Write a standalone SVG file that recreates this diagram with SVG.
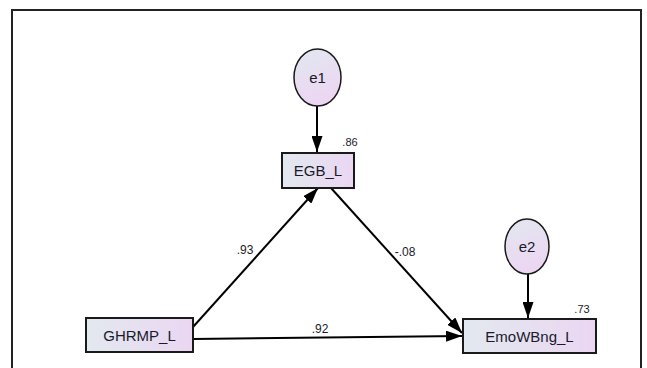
<svg xmlns="http://www.w3.org/2000/svg" width="647" height="368" viewBox="0 0 647 368">
<defs>
<linearGradient id="gr" x1="0" y1="0" x2="1" y2="0">
<stop offset="0" stop-color="#e2e9ef"/>
<stop offset="1" stop-color="#ebd6f2"/>
</linearGradient>
<linearGradient id="ge" x1="0" y1="0" x2="0.3" y2="1">
<stop offset="0" stop-color="#e2e8f0"/>
<stop offset="1" stop-color="#ecd6f2"/>
</linearGradient>
<marker id="ah" viewBox="0 0 16 11" refX="16" refY="5.5" markerWidth="16" markerHeight="11" markerUnits="userSpaceOnUse" orient="auto">
<path d="M0,0 L16,5.5 L0,11 Z" fill="#000"/>
</marker>
</defs>
<style>
.box{fill:url(#gr);stroke:#1a1a1a;stroke-width:2}
.ell{fill:url(#ge);stroke:#1a1a1a;stroke-width:1.5}
.lbl{font-family:"Liberation Sans",Arial,sans-serif;font-size:15px;fill:#1a1a2a;text-anchor:middle}
.num{font-family:"Liberation Sans",Arial,sans-serif;font-size:12px;fill:#1a1a2a;text-anchor:middle}
.con{stroke:#000;stroke-width:2;fill:none;marker-end:url(#ah)}
</style>
<rect x="0" y="0" width="647" height="368" fill="#fff"/>
<path d="M12,372 L12,10 L641,10 L641,372" fill="none" stroke="#222" stroke-width="2"/>
<g id="connectors">
<line class="con" x1="317" y1="106" x2="317" y2="152"/>
<line class="con" x1="528" y1="274" x2="528" y2="318"/>
<line class="con" x1="193" y1="327" x2="318" y2="188"/>
<line class="con" x1="331" y1="188" x2="462" y2="333"/>
<line class="con" x1="193" y1="339" x2="462" y2="336"/>
</g>
<g id="e1">
<ellipse class="ell" cx="317.5" cy="77.5" rx="23.5" ry="28.5"/>
<text class="lbl" x="317.5" y="83">e1</text>
</g>
<g id="e2">
<ellipse class="ell" cx="527" cy="246.5" rx="22" ry="27.5"/>
<text class="lbl" x="527" y="252">e2</text>
</g>
<g id="EGB_L">
<rect class="box" x="282" y="153" width="72" height="35"/>
<text class="lbl" x="318" y="176">EGB_L</text>
<text class="num" x="350" y="146" style="font-size:11px">.86</text>
</g>
<g id="GHRMP_L">
<rect class="box" x="86" y="318" width="107" height="34"/>
<text class="lbl" x="139.5" y="341">GHRMP_L</text>
</g>
<g id="EmoWBng_L">
<rect class="box" x="463" y="319" width="133" height="34"/>
<text class="lbl" x="529.5" y="342">EmoWBng_L</text>
<text class="num" x="582" y="313" style="font-size:11px">.73</text>
</g>
<g id="labels">
<text class="num" x="245" y="254">.93</text>
<text class="num" x="405" y="256">-.08</text>
<text class="num" x="320" y="333">.92</text>
</g>
</svg>
